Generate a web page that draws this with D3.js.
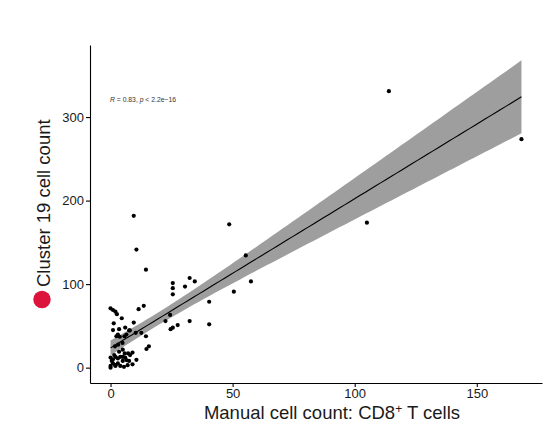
<!DOCTYPE html>
<meta charset="utf-8">
<body style="margin:0;background:#fff">

<!-- Load d3.js -->
<script src="https://d3js.org/d3.v7.min.js"></script>

<div id="my_dataviz"></div>

<script>

// manual CD8+ T cell count per sample (x) and cluster 19 cell count (y)
var manualCount = [
  168.3, 114, 105, 9.5, 10.6, 14.5, 48.6, 55.4, 57.5, 50.5,
  32.4, 34.5, 30.5, 25.5, 25.5, 25.5, 40.4, 40.4, 32.4, 27.5,
  25.5, 24.6, 22.5, 24.4, 13.6, 11.5, 9.5, 4.6, 7.6, 12.6,
  14.5, 5.7, 14.7, 15.7, 10.6, 0, 1, 2, 2.6, 1.3,
  3, 0, 0, 1, 3, 2, 4, 5, 6.5, 7.6,
  5.8, 7.2, 3.5, 5, 1.8, 3.1, 4.9, 2.4, 3.8, 6.5,
  7.9, 10.3, 0, 1, 1, 2, 2, 3, 4, 5,
  6, 6, 8, 9, 0.5, 1.5, 3.5, 5.5, 7, 9
];
var clusterCount = [
  273.5, 331, 173.5, 181.7, 141.3, 117.3, 171.6, 134.3, 103.2, 91,
  107.3, 103.2, 97, 101.2, 95.1, 87.8, 78.9, 51.8, 55.8, 51,
  47.8, 46.1, 55.8, 63.1, 74, 70, 53.9, 59.1, 44.5, 41.7,
  37.6, 37.6, 22.3, 25.5, 9.3, 71, 69, 67, 64, 53,
  39.7, 0, 2, 5, 5, 13, 13, 13, 9, 8,
  17, 17, 19, 21.5, 25.5, 27.5, 29.6, 37.6, 37, 39.7,
  44.5, 41.7, 12, 10, 45, 3, 2, 11, 2, 8,
  12, 48, 15, 18, 8, 15, 46, 1, 3, 4
];
var xTicks = [0, 50, 100, 150];
var yTicks = [0, 100, 200, 300];

var width = 557, height = 427;
var panel = {left: 90, right: 542, top: 45, bottom: 383};

var svg = d3.select("#my_dataviz")
  .append("svg")
    .attr("width", width)
    .attr("height", height)
    .style("font-family", "'Liberation Sans', Arial, sans-serif");

var data = manualCount.map(function(d, i) { return {x: d, y: clusterCount[i]}; });

// linear fit with 95% confidence band (like geom_smooth(method = "lm"))
var n = data.length,
    mx = d3.mean(data, d => d.x),
    my = d3.mean(data, d => d.y);
var sxx = d3.sum(data, d => (d.x - mx) * (d.x - mx)),
    sxy = d3.sum(data, d => (d.x - mx) * (d.y - my));
var slope = sxy / sxx,
    intercept = my - slope * mx;
var rss = d3.sum(data, d => Math.pow(d.y - intercept - slope * d.x, 2));
var s = Math.sqrt(rss / (n - 2));
var z = 1.959964, df = n - 2;
var tq = z + (z * z * z + z) / (4 * df) + (5 * Math.pow(z, 5) + 16 * z * z * z + 3 * z) / (96 * df * df);

var xExt = d3.extent(data, d => d.x);
var fit = d3.range(80).map(function(i) {
  var xv = xExt[0] + (xExt[1] - xExt[0]) * i / 79;
  var yh = intercept + slope * xv;
  var se = s * Math.sqrt(1 / n + (xv - mx) * (xv - mx) / sxx);
  return {x: xv, y: yh, lo: yh - tq * se, hi: yh + tq * se};
});

function expand(ext) {
  var pad = (ext[1] - ext[0]) * 0.05;
  return [ext[0] - pad, ext[1] + pad];
}

var x = d3.scaleLinear()
  .domain(expand(xExt))
  .range([panel.left, panel.right]);

var yExt = [Math.min(d3.min(data, d => d.y), d3.min(fit, d => d.lo)),
            Math.max(d3.max(data, d => d.y), d3.max(fit, d => d.hi))];
var y = d3.scaleLinear()
  .domain(expand(yExt))
  .range([panel.bottom, panel.top]);

// points
svg.selectAll("mycircle")
  .data(data)
  .enter()
  .append("circle")
    .attr("cx", d => x(d.x))
    .attr("cy", d => y(d.y))
    .attr("r", 2.1)
    .style("fill", "black");

// confidence band
svg.append("path")
  .datum(fit)
  .attr("d", d3.area().x(d => x(d.x)).y0(d => y(d.lo)).y1(d => y(d.hi)))
  .style("fill", "black")
  .style("opacity", 0.38);

// fitted line
svg.append("path")
  .datum(fit)
  .attr("d", d3.line().x(d => x(d.x)).y(d => y(d.y)))
  .style("fill", "none")
  .style("stroke", "black")
  .style("stroke-width", 1.1);

// X axis
var gx = svg.append("g")
  .attr("transform", "translate(0," + panel.bottom + ")")
  .call(d3.axisBottom(x).tickValues(xTicks).tickSize(4).tickSizeOuter(0).tickPadding(2));

// Y axis
var gy = svg.append("g")
  .attr("transform", "translate(" + panel.left + ",0)")
  .call(d3.axisLeft(y).tickValues(yTicks).tickSize(4).tickSizeOuter(0).tickPadding(2));

[gx, gy].forEach(function(g) {
  g.select(".domain").attr("stroke", "black").attr("stroke-width", 1.1);
  g.selectAll(".tick line").attr("stroke", "black").attr("stroke-width", 1.1);
  g.selectAll(".tick text")
    .attr("fill", "#1a1a1a")
    .style("font-size", "13px")
    .style("font-family", "'Liberation Sans', Arial, sans-serif");
});

// axis titles
var xt = svg.append("text")
  .attr("x", 332)
  .attr("y", 418.5)
  .attr("text-anchor", "middle")
  .style("font-size", "18.5px")
  .attr("fill", "#1a1a1a");
xt.append("tspan").text("Manual cell count: CD8");
xt.append("tspan").attr("dy", -6).style("font-size", "12px").text("+");
xt.append("tspan").attr("dy", 6).text(" T cells");

svg.append("text")
  .attr("transform", "translate(50,287)rotate(-90)")
  .attr("text-anchor", "start")
  .style("font-size", "18.5px")
  .attr("fill", "#1a1a1a")
  .text("Cluster 19 cell count");

svg.append("circle")
  .attr("cx", 42)
  .attr("cy", 299.5)
  .attr("r", 8.7)
  .style("fill", "#DC143C");

// correlation label
var lab = svg.append("text")
  .attr("x", 110)
  .attr("y", 101.5)
  .style("font-size", "6.8px")
  .attr("fill", "#333");
lab.append("tspan").style("font-style", "italic").text("R");
lab.append("tspan").text(" = 0.83, ");
lab.append("tspan").style("font-style", "italic").text("p");
lab.append("tspan").text(" < 2.2e\u221216");

</script>
